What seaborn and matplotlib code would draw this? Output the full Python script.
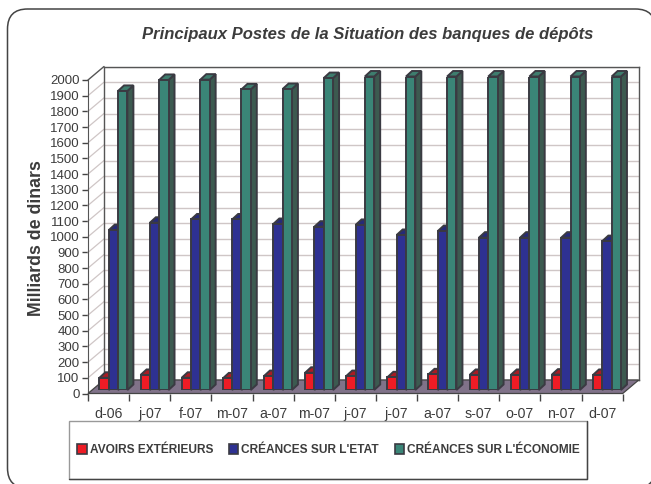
import matplotlib
matplotlib.use('Agg')
import matplotlib.pyplot as plt
import matplotlib.transforms as mtransforms
from matplotlib.patches import FancyBboxPatch, Polygon, Rectangle
from matplotlib.lines import Line2D
import pandas as pd
import seaborn as sns

# Values
months = ['d-06', 'j-07', 'f-07', 'm-07', 'a-07', 'm-07 ', 'j-07 ', 'j-07  ', 'a-07 ', 's-07', 'o-07', 'n-07', 'd-07']
avoirs = [78, 96, 78, 74, 89, 110, 89, 81, 100, 96, 96, 98, 96]
etat = [1020, 1067, 1088, 1088, 1059, 1042, 1053, 989, 1014, 972, 972, 972, 950]
economie = [1908, 1978, 1980, 1918, 1920, 1990, 2000, 2000, 2000, 2000, 2000, 2000, 2000]
series_names = ['AVOIRS EXTÉRIEURS', "CRÉANCES SUR L'ETAT", "CRÉANCES SUR L'ÉCONOMIE"]
yticks = list(range(0, 2001, 100))

W, H = 651, 484
face_colors = ['#ee1c25', '#2e3192', '#3a8577']
side_colors = ['#8a1c22', '#20225e', '#3c5a50']
top_colors = ['#a81c24', '#262a78', '#3e7d6e']
edge = '#3a3a42'
text_col = '#3c3c3c'
grid_col = '#cfc6c6'

sns.set_style('white')
plt.rcParams['font.family'] = ['Liberation Sans', 'DejaVu Sans']

df = pd.DataFrame({'mois': months * 3,
                   'serie': [series_names[0]] * 13 + [series_names[1]] * 13 + [series_names[2]] * 13,
                   'valeur': avoirs + etat + economie})

fig = plt.figure(figsize=(W / 100, H / 100), dpi=100)
pixels = mtransforms.IdentityTransform()


def pt(x, y):
    return (x, H - y)


def make_axes(x0, x1, y_bottom, y_top, z):
    a = fig.add_axes([x0 / W, 1 - y_bottom / H, (x1 - x0) / W, (y_bottom - y_top) / H])
    a.set_zorder(z)
    return a


# rounded outer frame, runs off the page on the right and at the bottom
fig.add_artist(FancyBboxPatch(pt(7.5, 488), 648, 479, boxstyle='round,pad=0,rounding_size=20',
                              transform=pixels, fc='white', ec='#444444', lw=1.1, zorder=-1))

# front plane: tick labels and the left edge
ax = make_axes(88, 622.7, 393.5, 80, 1)
ax.patch.set_alpha(0)
ax.set_xlim(-0.5, 12.5)
ax.set_ylim(0, 2000)
ax.set_yticks(yticks)
ax.set_xticks(range(13))
ax.set_xticklabels([m.strip() for m in months], fontsize=10.2, color=text_col)
ax.set_xticks([i - 0.5 for i in range(14)], minor=True)
ax.tick_params(axis='x', which='major', length=0, pad=10)
ax.tick_params(axis='x', which='minor', length=5, width=1, color='#444444', bottom=True)
ax.tick_params(axis='y', length=4.5, width=1, color='#444444', pad=1.5, labelsize=9.5, labelcolor=text_col, left=True)
for s in ['top', 'right', 'bottom']:
    ax.spines[s].set_visible(False)
ax.spines['left'].set_color('#555555')
ax.set_ylabel('Milliards de dinars', fontsize=12.8, fontweight='bold', color=text_col)
ax.yaxis.set_label_coords((45 - 88) / 534.7, (393.5 - 238) / 313.5)

# side wall lines
for v in yticks:
    _, yd = ax.transData.transform((0, v))
    c, w = ('#555555', 1) if v == 2000 else (grid_col, 0.9)
    ax.add_line(Line2D([88, 104], [yd, yd + 13.5], transform=pixels, color=c, lw=w, clip_on=False))

# back wall
wall = make_axes(104, 638.7, 380, 66.5, 2)
wall.set_xlim(-0.5, 12.5)
wall.set_ylim(0, 2000)
wall.set_yticks(yticks)
wall.set_xticks([])
wall.tick_params(left=False, labelleft=False)
wall.grid(axis='y', color=grid_col, lw=1)
for s in wall.spines.values():
    s.set_color('#555555')
    s.set_linewidth(1)
wall.add_patch(Polygon([pt(88, 393.5), pt(622.7, 393.5), pt(638.7, 380), pt(104, 380)], transform=pixels,
                       fc='#807289', ec='#444444', lw=0.9, clip_on=False, zorder=5))

# bars
bars = make_axes(92.85, 627.55, 390, 76.5, 3)
bars.patch.set_alpha(0)
sns.barplot(data=df, x='mois', y='valeur', hue='serie', hue_order=series_names, palette=face_colors,
            width=0.68, saturation=1, ax=bars, legend=True)
handles, labels = bars.get_legend_handles_labels()
bars.get_legend().remove()
bars.set_xlim(-0.5, 12.5)
bars.set_ylim(0, 2000)
bars.axis('off')

dx, dy = 6, 5.5
for i, cont in enumerate(bars.containers):
    for p in cont:
        x0, y0 = bars.transData.transform((p.get_x(), 0))
        x1, y1 = bars.transData.transform((p.get_x() + p.get_width(), p.get_height()))
        side = [(x1, y0), (x1 + dx, y0 + dy), (x1 + dx, y1 + dy), (x1, y1)]
        top = [(x0, y1), (x0 + dx, y1 + dy), (x1 + dx, y1 + dy), (x1, y1)]
        bars.add_patch(Polygon(side, transform=pixels, fc=side_colors[i], ec=edge, lw=1.4, clip_on=False, zorder=3 + i))
        bars.add_patch(Polygon(top, transform=pixels, fc=top_colors[i], ec=edge, lw=1.4, clip_on=False, zorder=3 + i))
        p.set_edgecolor(edge)
        p.set_linewidth(1.4)
        p.set_zorder(3.5 + i)

# title
fig.text(368 / W, 1 - 34.5 / H, 'Principaux Postes de la Situation des banques de dépôts', ha='center', va='center',
         fontsize=12, fontweight='bold', fontstyle='italic', color=text_col)

# legend box
fig.add_artist(Rectangle(pt(69, 479), 517.7, 58, transform=pixels, fc='white', ec='#999999', lw=1, zorder=3))
fig.add_artist(Line2D([69, 586.7, 586.7], [H - 479, H - 479, H - 421], transform=pixels, color='#444444', lw=1, zorder=3.1))
leg = fig.legend(handles, labels, ncol=3, frameon=False, loc='center left', bbox_to_anchor=(72.5 / W, 1 - 450 / H),
                 prop={'weight': 'bold', 'size': 8.6}, handlelength=0.8, handleheight=1.0, handletextpad=0.25,
                 columnspacing=1.3, borderpad=0, borderaxespad=0.4)
leg.set_zorder(4)
for t in leg.get_texts():
    t.set_color(text_col)
for h in leg.legend_handles:
    h.set_edgecolor(edge)
    h.set_linewidth(1.2)

fig.savefig('out.png', dpi=100)
